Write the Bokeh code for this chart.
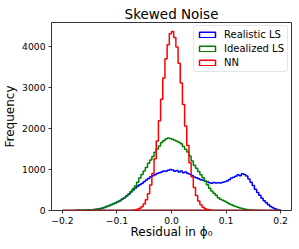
import numpy as np
from bokeh.plotting import figure
from bokeh.models import Range1d, FixedTicker, Legend, LegendItem
from bokeh.embed import file_html
from bokeh.resources import INLINE

# ---- data ----
bin_start = -0.2
bin_width = 0.004
n_bins = 100

realistic_ls = [
    0, 0, 1, 1, 2, 3, 4, 5, 6, 7,
    9, 12, 15, 18, 22, 28, 34, 46, 60, 76,
    98, 118, 144, 164, 190, 220, 240, 282, 312, 358,
    398, 450, 500, 548, 590, 628, 660, 700, 742, 780,
    822, 846, 872, 904, 918, 936, 964, 958, 984, 1002,
    986, 960, 978, 940, 962, 918, 936, 900, 884, 852,
    818, 800, 776, 752, 738, 712, 700, 676, 664, 680,
    668, 676, 670, 690, 702, 720, 752, 790, 812, 836,
    872, 850, 898, 880, 840, 770, 690, 612, 520, 440,
    370, 300, 240, 186, 138, 96, 66, 42, 24, 10,
]

idealized_ls = [
    0, 1, 1, 2, 2, 3, 4, 5, 6, 8,
    10, 12, 14, 17, 21, 27, 35, 44, 58, 78,
    102, 122, 140, 168, 192, 214, 246, 276, 318, 352,
    404, 462, 528, 600, 690, 792, 880, 962, 1046, 1150,
    1232, 1318, 1420, 1498, 1570, 1660, 1702, 1744, 1770, 1756,
    1738, 1712, 1690, 1664, 1626, 1560, 1494, 1425, 1330, 1210,
    1104, 1030, 950, 874, 798, 720, 630, 540, 476, 420,
    372, 310, 276, 252, 228, 196, 166, 140, 118, 98,
    82, 64, 50, 36, 26, 20, 14, 10, 7, 5,
    4, 3, 2, 2, 1, 1, 1, 0, 0, 0,
]

nn = [
    0, 0, 0, 0, 0, 0, 0, 0, 0, 0,
    0, 0, 0, 0, 0, 0, 0, 0, 0, 0,
    0, 0, 0, 0, 0, 0, 0, 0, 0, 1,
    1, 3, 7, 15, 28, 52, 93, 158, 260, 410,
    621, 904, 1263, 1697, 2190, 2715, 3234, 3702, 4040, 4310,
    4366, 4220, 3989, 3592, 3107, 2583, 2062, 1582, 1167, 826,
    562, 368, 231, 139, 81, 45, 24, 12, 6, 3,
    1, 0, 0, 0, 0, 0, 0, 0, 0, 0,
    0, 0, 0, 0, 0, 0, 0, 0, 0, 0,
    0, 0, 0, 0, 0, 0, 0, 0, 0, 0,
]

series_names = ["Realistic LS", "Idealized LS", "NN"]
series_colors = ["#0000ff", "#008000", "#ff0000"]

x_ticks = [-0.2, -0.1, 0.0, 0.1, 0.2]
x_tick_labels = ["\u22120.2", "\u22120.1", "0.0", "0.1", "0.2"]
y_ticks = [0, 1000, 2000, 3000, 4000]
y_tick_labels = ["0", "1000", "2000", "3000", "4000"]

title_text = "Skewed Noise"
x_label = "Residual in \u03d5\u2080"
y_label = "Frequency"

FONT = "DejaVu Sans"

edges = bin_start + bin_width * np.arange(n_bins + 1)
ymax = max(max(realistic_ls), max(idealized_ls), max(nn)) * 1.05
xpad = (edges[-1] - edges[0]) * 0.05

p = figure(
    width=299, height=249,
    output_backend="svg", toolbar_location=None,
    x_range=Range1d(edges[0] - xpad, edges[-1] + xpad),
    y_range=Range1d(0, ymax),
    min_border_left=51, min_border_right=8,
    min_border_top=22, min_border_bottom=39,
    background_fill_color="white", border_fill_color="white",
)
p.grid.visible = False
p.outline_line_color = "black"
p.outline_line_width = 0.8

p.title.text = title_text
p.title.align = "center"
p.title.text_font = FONT
p.title.text_font_size = "13.5px"
p.title.text_font_style = "normal"
p.title.text_color = "black"
p.title.standoff = 1

items = []
for name, color, vals in zip(series_names, series_colors,
                             [realistic_ls, idealized_ls, nn]):
    xs = np.repeat(edges, 2)
    ys = np.concatenate([[0], np.repeat(np.array(vals, dtype=float), 2), [0]])
    r = p.patch(xs, ys, fill_alpha=0, line_color=color, line_width=1.5)
    items.append(LegendItem(label=name, renderers=[r]))

legend = Legend(
    items=items, location=(142, 138),
    label_text_font=FONT, label_text_font_size="10px",
    label_text_color="black",
    glyph_width=20, glyph_height=7, label_standoff=7,
    padding=3, spacing=3, margin=0, label_height=11,
    border_line_color="#cccccc", border_line_width=1,
    background_fill_color="white", background_fill_alpha=0.8,
    border_radius=3,
)
p.add_layout(legend)

for ax in (p.xaxis[0], p.yaxis[0]):
    ax.axis_line_color = None
    ax.major_tick_line_color = "black"
    ax.major_tick_line_width = 0.8
    ax.major_tick_out = 3
    ax.major_tick_in = 0
    ax.minor_tick_line_color = None
    ax.major_label_text_font = FONT
    ax.major_label_text_font_size = "9.2px"
    ax.major_label_text_color = "black"
    ax.major_label_standoff = 3
    ax.axis_label_text_font = FONT
    ax.axis_label_text_font_size = "12px"
    ax.axis_label_text_font_style = "normal"
    ax.axis_label_text_color = "black"

p.xaxis[0].axis_label_standoff = -2
p.yaxis[0].axis_label_standoff = 2

p.xaxis[0].ticker = FixedTicker(ticks=x_ticks)
p.xaxis[0].major_label_overrides = dict(zip(x_ticks, x_tick_labels))
p.yaxis[0].ticker = FixedTicker(ticks=y_ticks)
p.yaxis[0].major_label_overrides = dict(zip(y_ticks, y_tick_labels))
p.xaxis[0].axis_label = x_label
p.yaxis[0].axis_label = y_label

open("out.html", "w").write(file_html(p, INLINE))
